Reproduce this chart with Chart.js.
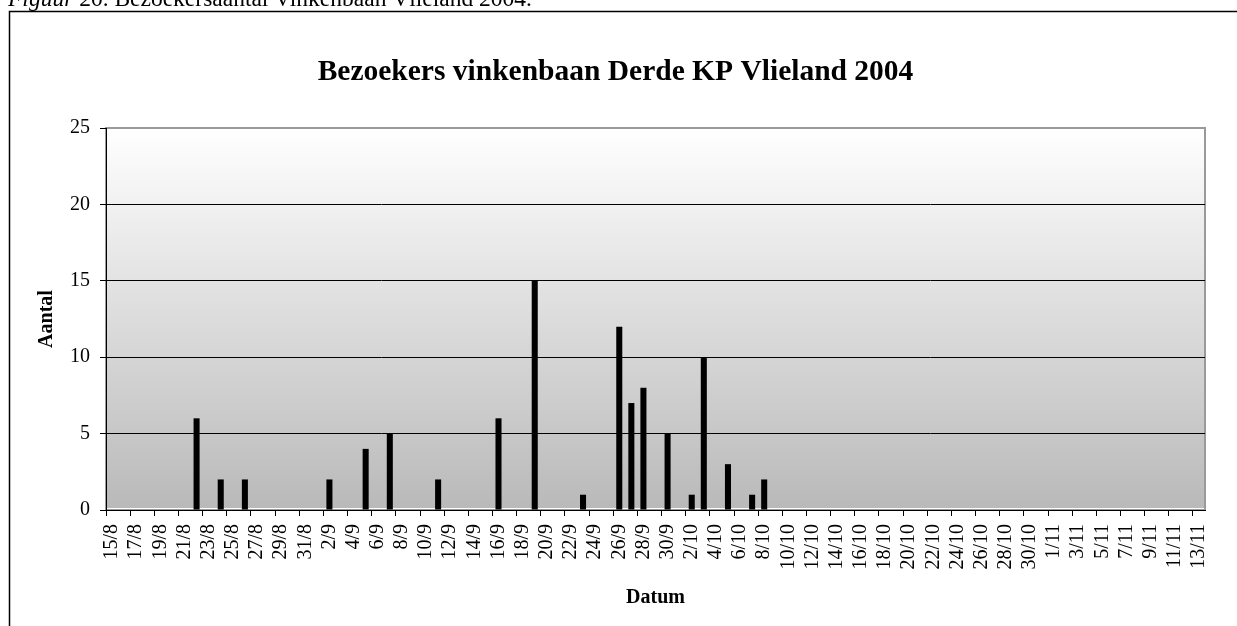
<!DOCTYPE html>
<html>
<head>
<meta charset="utf-8">
<script src="https://cdn.jsdelivr.net/npm/chart.js@4.4.1/dist/chart.umd.min.js"></script>
<style>
	html, body { margin: 0; padding: 0; background: #ffffff; }
	canvas { display: block; }
</style>
</head>
<body>
<canvas id="vinkenbaan-chart" width="1237" height="626"></canvas>
<script>
// Days 15/8 - 13/11 (one category per day).
const dagen = [
	'15/8', '16/8', '17/8', '18/8', '19/8', '20/8', '21/8', '22/8', '23/8', '24/8',
	'25/8', '26/8', '27/8', '28/8', '29/8', '30/8', '31/8',
	'1/9', '2/9', '3/9', '4/9', '5/9', '6/9', '7/9', '8/9', '9/9', '10/9',
	'11/9', '12/9', '13/9', '14/9', '15/9', '16/9', '17/9', '18/9', '19/9', '20/9',
	'21/9', '22/9', '23/9', '24/9', '25/9', '26/9', '27/9', '28/9', '29/9', '30/9',
	'1/10', '2/10', '3/10', '4/10', '5/10', '6/10', '7/10', '8/10', '9/10', '10/10',
	'11/10', '12/10', '13/10', '14/10', '15/10', '16/10', '17/10', '18/10', '19/10', '20/10',
	'21/10', '22/10', '23/10', '24/10', '25/10', '26/10', '27/10', '28/10', '29/10', '30/10',
	'31/10',
	'1/11', '2/11', '3/11', '4/11', '5/11', '6/11', '7/11', '8/11', '9/11', '10/11',
	'11/11', '12/11', '13/11'
];

// Number of visitors per day.
const bezoekers = [
	0, 0, 0, 0, 0, 0, 0, 6, 0, 2, 0, 2, 0, 0, 0, 0, 0,
	0, 2, 0, 0, 4, 0, 5, 0, 0, 0, 2, 0, 0, 0, 0, 6, 0, 0, 15, 0,
	0, 0, 1, 0, 0, 12, 7, 8, 0, 5,
	0, 1, 10, 0, 3, 0, 1, 2, 0, 0, 0, 0, 0, 0, 0, 0, 0, 0, 0, 0,
	0, 0, 0, 0, 0, 0, 0, 0, 0, 0, 0,
	0, 0, 0, 0, 0, 0, 0, 0, 0, 0, 0, 0, 0
];

const yTicks = [0, 5, 10, 15, 20, 25];

const serif = "'Liberation Serif', 'Times New Roman', serif";

// Page caption, outer frame, title and plot background.
const decorPlugin = {
	id: 'decor',
	beforeDraw: function(chart) {
		const ctx = chart.ctx;
		const area = chart.chartArea;
		ctx.save();

		const grad = ctx.createLinearGradient(0, area.top, 0, area.bottom);
		grad.addColorStop(0, '#ffffff');
		grad.addColorStop(1, '#b9b9b9');
		ctx.fillStyle = grad;
		ctx.fillRect(area.left, area.top, area.right - area.left, area.bottom - area.top - 2);

		ctx.strokeStyle = '#9a9a9a';
		ctx.lineWidth = 2;
		ctx.strokeRect(area.left, area.top, area.right - area.left, area.bottom - area.top);

		ctx.restore();
	},
	afterDraw: function(chart) {
		const ctx = chart.ctx;
		ctx.save();

		// Frame round the chart.
		ctx.strokeStyle = '#000000';
		ctx.lineWidth = 1.5;
		ctx.strokeRect(9.5, 11.5, 1400, 800);

		// Caption above the frame (cut off by the page top).
		ctx.fillStyle = '#000000';
		ctx.textBaseline = 'alphabetic';
		ctx.textAlign = 'left';
		ctx.font = 'italic 23.5px ' + serif;
		ctx.fillText('Figuur', 8, 6);
		const w = ctx.measureText('Figuur').width;
		ctx.font = '23.5px ' + serif;
		ctx.fillText(' 20. Bezoekersaantal Vinkenbaan Vlieland 2004.', 8 + w, 6);

		// Chart title.
		ctx.font = 'bold 29.5px ' + serif;
		ctx.textAlign = 'center';
		ctx.fillText('Bezoekers vinkenbaan Derde KP Vlieland 2004', 615.5, 80);

		ctx.restore();
	}
};

const ctx = document.getElementById('vinkenbaan-chart').getContext('2d');

new Chart(ctx, {
	type: 'bar',
	data: {
		labels: dagen,
		datasets: [
			{
				label: 'Bezoekers',
				data: bezoekers,
				backgroundColor: '#000000',
				borderWidth: 0,
				barPercentage: 0.5,
				categoryPercentage: 1.0
			}
		]
	},
	options: {
		responsive: false,
		animation: false,
		devicePixelRatio: 1,
		layout: {
			padding: { top: 128, left: 10, right: 32, bottom: 0 }
		},
		plugins: {
			legend: { display: false },
			tooltip: { enabled: false },
			title: { display: false }
		},
		scales: {
			x: {
				offset: true,
				afterFit: function(scale) {
					scale.height = 116;
				},
				grid: {
					offset: true,
					drawOnChartArea: false,
					tickLength: 6,
					tickColor: function(c) {
						return c.index % 2 === 0 ? '#000000' : 'rgba(0,0,0,0)';
					}
				},
				border: { display: true, color: '#000000', width: 1 },
				ticks: {
					autoSkip: false,
					maxRotation: 90,
					minRotation: 90,
					padding: 8,
					color: '#000000',
					font: { family: serif, size: 20 },
					callback: function(value, index) {
						return index % 2 === 0 ? dagen[index] : '';
					}
				},
				title: {
					display: true,
					text: 'Datum',
					color: '#000000',
					font: { family: serif, size: 20, weight: 'bold' },
					padding: { top: 0, bottom: 16 }
				}
			},
			y: {
				min: 0,
				max: 25,
				afterFit: function(scale) {
					scale.width = 96;
				},
				afterBuildTicks: function(scale) {
					scale.ticks = yTicks.map(function(v) { return { value: v }; });
				},
				grid: {
					color: function(c) {
						return c.tick && c.tick.value === 25 ? '#9a9a9a' : '#000000';
					},
					tickColor: '#000000',
					tickLength: 6,
					lineWidth: 1
				},
				border: { display: true, color: '#000000', width: 1 },
				ticks: {
					padding: 10,
					color: '#000000',
					font: { family: serif, size: 20 }
				},
				title: {
					display: true,
					text: 'Aantal',
					color: '#000000',
					font: { family: serif, size: 20, weight: 'bold' },
					padding: { top: 25, bottom: 0 }
				}
			}
		}
	},
	plugins: [decorPlugin]
});
</script>
</body>
</html>
